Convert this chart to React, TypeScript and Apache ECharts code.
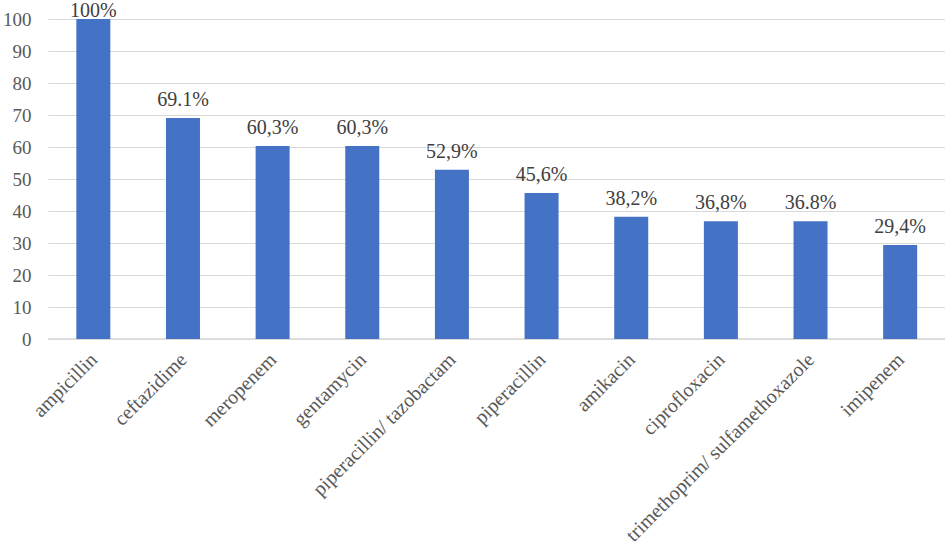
import React, { useEffect, useRef } from "react";
import * as echarts from "echarts";

const categories = [
  "ampicillin",
  "ceftazidime",
  "meropenem",
  "gentamycin",
  "piperacillin/ tazobactam",
  "piperacillin",
  "amikacin",
  "ciprofloxacin",
  "trimethoprim/ sulfamethoxazole",
  "imipenem",
];
const values = [100, 69.1, 60.3, 60.3, 52.9, 45.6, 38.2, 36.8, 36.8, 29.4];
const valueLabels = ["100%", "69.1%", "60,3%", "60,3%", "52,9%", "45,6%", "38,2%", "36,8%", "36.8%", "29,4%"];

const FONT = "Times New Roman, Liberation Serif, serif";

export default function App() {
  const ref = useRef<HTMLDivElement>(null);
  useEffect(() => {
    if (!ref.current) return;
    const chart = echarts.init(ref.current, null, { renderer: "svg" });
    chart.setOption({
      animation: false,
      textStyle: { fontFamily: FONT },
      grid: { left: 48, right: 0, top: 19, bottom: 210, containLabel: false },
      xAxis: {
        type: "category",
        data: categories,
        axisLine: { show: true, lineStyle: { color: "#d9d9d9", width: 1.5 } },
        axisTick: { show: false },
        axisLabel: {
          rotate: 45,
          interval: 0,
          margin: 17,
          fontFamily: FONT,
          fontSize: 20,
          color: "#595959",
        },
      },
      yAxis: {
        type: "value",
        min: 0,
        max: 100,
        interval: 10,
        axisLine: { show: false },
        axisTick: { show: false },
        splitLine: { lineStyle: { color: "#d9d9d9", width: 1 } },
        axisLabel: {
          fontFamily: FONT,
          fontSize: 19,
          color: "#595959",
          margin: 17,
        },
      },
      series: [
        {
          type: "bar",
          data: values.map((v, i) =>
            i === 0 ? { value: v, label: { distance: -1 } } : v
          ),
          barWidth: 34,
          itemStyle: { color: "#4472C4" },
          label: {
            show: true,
            position: "top",
            distance: 9,
            fontFamily: FONT,
            fontSize: 20,
            color: "#404040",
            formatter: (p: any) => valueLabels[p.dataIndex],
          },
        },
      ],
    });
    return () => chart.dispose();
  }, []);
  return (
    <div
      ref={ref}
      style={{ position: "absolute", left: 0, top: 0, width: 945, height: 549, background: "#fff" }}
    />
  );
}
